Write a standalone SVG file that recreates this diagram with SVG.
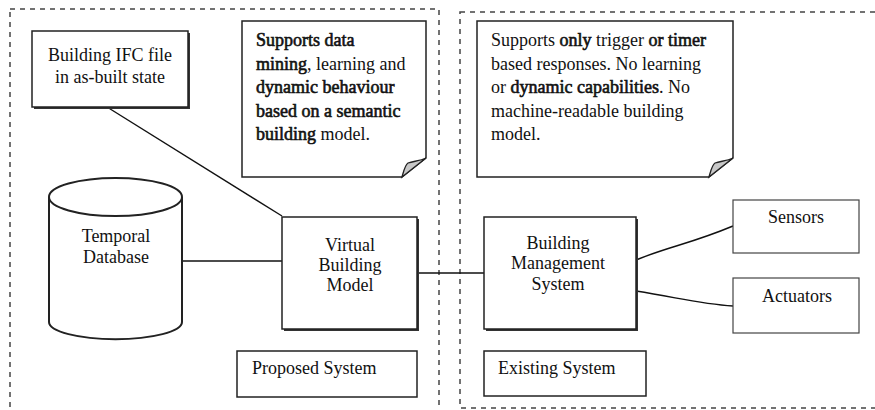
<svg xmlns="http://www.w3.org/2000/svg" width="875" height="410" viewBox="0 0 875 410">
<style>
  text { font-family: "Liberation Serif", "Times New Roman", serif; font-size: 18px; fill: #111; }
  .c { text-anchor: middle; }
  .b { stroke: #111; stroke-width: 0.6; }
  .dash { fill: none; stroke: #444; stroke-width: 1.5; stroke-dasharray: 5 5; }
  .box { fill: #fff; stroke: #222; stroke-width: 1.5; }
  .shadow { fill: #333; }
  .thin { fill: #fff; stroke: #444; stroke-width: 1.2; }
  .conn { fill: none; stroke: #111; stroke-width: 1.4; }
  .curl { fill: #c8c8c8; stroke: #222; stroke-width: 1.3; }
</style>

<g id="proposed-region">
  <rect class="dash" x="10" y="9" width="429" height="420"/>
</g>
<g id="existing-region">
  <rect class="dash" x="460" y="12" width="430" height="396"/>
</g>

<g id="connectors">
  <line class="conn" x1="107" y1="107" x2="282" y2="216"/>
  <line class="conn" x1="182" y1="261" x2="282" y2="261"/>
  <line class="conn" x1="417" y1="273" x2="484" y2="273"/>
  <path class="conn" d="M636,260 C670,246 690,244 733,226"/>
  <path class="conn" d="M636,291 C680,298 700,304 733,306"/>
</g>

<g id="ifc-file">
  <rect class="shadow" x="34" y="33" width="156" height="76"/>
  <rect class="box" x="32" y="31" width="156" height="76"/>
  <text class="c" x="110" y="61">Building IFC file</text>
  <text class="c" x="110" y="83">in as-built state</text>
</g>

<g id="note-proposed">
  <path class="box" d="M242,21 H426 V158 L402,177 H242 Z"/>
  <path class="curl" d="M402,177 C404,170 405,165 408,163 C414,161 420,161 426,158 Z"/>
  <text x="256" y="46"><tspan class="b">Supports data</tspan></text>
  <text x="256" y="69.5"><tspan class="b">mining</tspan>, learning and</text>
  <text x="256" y="93"><tspan class="b">dynamic behaviour</tspan></text>
  <text x="256" y="116.5"><tspan class="b">based on a semantic</tspan></text>
  <text x="256" y="140"><tspan class="b">building</tspan> model.</text>
</g>

<g id="note-existing">
  <path class="box" d="M477,21 H733 V158 L709,177 H477 Z"/>
  <path class="curl" d="M709,177 C711,170 712,165 715,163 C721,161 727,161 733,158 Z"/>
  <text x="491" y="46">Supports <tspan class="b">only</tspan> trigger <tspan class="b">or timer</tspan></text>
  <text x="491" y="69.5">based responses. No learning</text>
  <text x="491" y="93">or <tspan class="b">dynamic capabilities</tspan>. No</text>
  <text x="491" y="116.5">machine-readable building</text>
  <text x="491" y="140">model.</text>
</g>

<g id="temporal-database">
  <path d="M49,197 V322 A66,17 0 0 0 182,322 V197" fill="#fff" stroke="#222" stroke-width="2"/>
  <ellipse cx="115.5" cy="197" rx="66.5" ry="19" fill="#fff" stroke="#222" stroke-width="2"/>
  <text class="c" x="116" y="242">Temporal</text>
  <text class="c" x="116" y="263">Database</text>
</g>

<g id="virtual-building-model">
  <rect class="shadow" x="284" y="219" width="135" height="112"/>
  <rect class="box" x="282" y="217" width="135" height="112"/>
  <text class="c" x="350" y="251">Virtual</text>
  <text class="c" x="350" y="271">Building</text>
  <text class="c" x="350" y="291">Model</text>
</g>

<g id="building-management-system">
  <rect class="shadow" x="486" y="219" width="152" height="112"/>
  <rect class="box" x="484" y="217" width="152" height="112"/>
  <text class="c" x="558" y="249">Building</text>
  <text class="c" x="558" y="269">Management</text>
  <text class="c" x="558" y="290">System</text>
</g>

<g id="sensors">
  <rect class="thin" x="733" y="200" width="126" height="53"/>
  <text class="c" x="796" y="223">Sensors</text>
</g>

<g id="actuators">
  <rect class="thin" x="733" y="278" width="126" height="55"/>
  <text class="c" x="797" y="302">Actuators</text>
</g>

<g id="proposed-label">
  <rect class="box" x="237" y="351" width="180" height="46"/>
  <text x="252" y="374">Proposed System</text>
</g>

<g id="existing-label">
  <rect class="box" x="484" y="351" width="162" height="45"/>
  <text x="498" y="374">Existing System</text>
</g>
</svg>
